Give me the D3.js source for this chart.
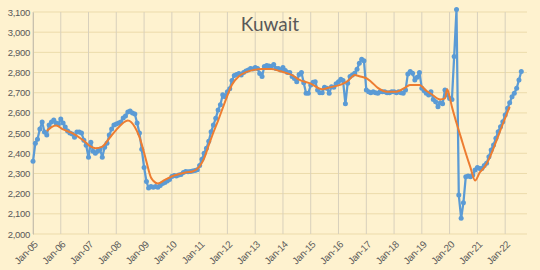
<!DOCTYPE html>
<html>
<head>
<meta charset="utf-8">
<script src="https://cdn.jsdelivr.net/npm/d3@7"></script>
<style>
  body { margin: 0; background: #fef2cf; }
  svg { display: block; font-family: Lato, "Open Sans", sans-serif; }
</style>
</head>
<body>
<div id="chart"></div>
<script>
// monthly crude output, kb/d, from Jan-05
var firstMonth = "2005-01";
var kuwaitCrude = [
  2360, 2450, 2470, 2520, 2555, 2505, 2490, 2540, 2555, 2565, 2550, 2545,
  2570, 2550, 2530, 2510, 2500, 2495, 2480, 2505, 2505, 2500, 2465, 2440,
  2380, 2455, 2410, 2400, 2410, 2420, 2380, 2430, 2450, 2490, 2520, 2540,
  2545, 2550, 2555, 2575, 2585, 2605, 2610, 2600, 2595, 2550, 2500, 2420,
  2330, 2260, 2228, 2235, 2232, 2235, 2232, 2240, 2250, 2255, 2262, 2270,
  2285, 2290, 2288, 2292, 2295, 2305, 2310, 2308, 2310, 2312, 2315, 2318,
  2340, 2370, 2400, 2425, 2460, 2507, 2540, 2573, 2614, 2640, 2690, 2680,
  2705, 2720, 2760, 2785, 2790, 2795, 2788, 2800, 2808, 2812, 2820, 2817,
  2825, 2820, 2795, 2780, 2830, 2835, 2832, 2830, 2840, 2820, 2820, 2812,
  2825, 2810, 2800, 2800, 2780, 2770, 2755, 2790, 2800, 2750, 2697, 2697,
  2738, 2752, 2755, 2713, 2700, 2700, 2727, 2722, 2697, 2730, 2727, 2745,
  2755, 2767, 2760, 2645, 2747, 2780, 2788, 2797, 2816, 2846, 2866, 2859,
  2713, 2705, 2700, 2705, 2700, 2697, 2705, 2705, 2705, 2700, 2700, 2705,
  2705, 2700, 2705, 2700, 2698, 2713, 2793, 2805, 2797, 2763, 2777, 2800,
  2722, 2710, 2697, 2689, 2705, 2667, 2655, 2631, 2650, 2645, 2713, 2689,
  2672, 2667, 2879, 3113, 2193, 2078, 2155, 2284, 2287, 2284, 2292, 2317,
  2330, 2325, 2325, 2340, 2350, 2383, 2416, 2441, 2474, 2507, 2532, 2556,
  2590, 2623, 2650, 2680, 2697, 2722, 2763, 2805
];

// smoothed trend (orange)
var smoothDates = [
  "2005-07", "2005-09", "2005-11", "2006-02", "2006-06", "2006-11", "2007-02", "2007-04",
  "2007-07", "2007-10", "2008-01", "2008-05", "2008-06", "2008-09", "2008-11", "2009-01",
  "2009-02", "2009-04", "2009-05", "2009-07", "2009-10", "2010-02", "2010-07", "2010-10",
  "2011-01", "2011-03", "2011-05", "2011-07", "2011-09", "2011-12", "2012-03", "2012-06",
  "2012-09", "2012-12", "2013-04", "2013-08", "2013-12", "2014-05", "2014-08", "2015-01",
  "2015-06", "2015-09", "2016-02", "2016-05", "2016-07", "2016-08", "2016-10", "2017-01",
  "2017-03", "2017-06", "2017-10", "2018-02", "2018-06", "2018-08", "2018-12", "2019-03",
  "2019-05", "2019-09", "2019-11", "2019-12", "2020-01", "2020-02", "2020-04", "2020-06",
  "2020-08", "2020-10", "2020-12", "2021-02", "2021-04", "2021-06", "2021-09", "2021-12",
  "2022-03"
];
var smoothValues = [
  2510, 2530, 2538, 2518, 2500, 2462, 2433, 2425,
  2433, 2474, 2516, 2558, 2562, 2530, 2480, 2402,
  2358, 2280, 2264, 2250, 2268, 2290, 2305, 2310,
  2335, 2375, 2440, 2503, 2562, 2655, 2740, 2782,
  2802, 2812, 2817, 2817, 2806, 2787, 2765, 2745,
  2717, 2726, 2740, 2758, 2780, 2788, 2782, 2772,
  2756, 2724, 2705, 2705, 2727, 2738, 2738, 2710,
  2695, 2667, 2672, 2717, 2680, 2630, 2550, 2475,
  2400, 2330, 2265, 2305, 2330, 2370, 2455, 2545,
  2631
];

var yTicks = [2000, 2100, 2200, 2300, 2400, 2500, 2600, 2700, 2800, 2900, 3000, 3100];
var xTickMonths = [
  "2005-01", "2006-01", "2007-01", "2008-01", "2009-01", "2010-01", "2011-01", "2012-01", "2013-01",
  "2014-01", "2015-01", "2016-01", "2017-01", "2018-01", "2019-01", "2020-01", "2021-01", "2022-01"
];

var width = 540, height = 270,
    plotLeft = 33, plotRight = 527, plotTop = 12, plotBottom = 234;

var parseMonth = d3.timeParse("%Y-%m");
var start = parseMonth(firstMonth);

var crude = kuwaitCrude.map(function(v, i) {
  return { date: d3.timeMonth.offset(start, i), v: v };
});
var trend = smoothDates.map(function(d, i) {
  return { date: parseMonth(d), v: smoothValues[i] };
});
var xTicks = xTickMonths.map(parseMonth);

var x = d3.scaleTime()
  .domain([start, new Date(2022, 9, 15)])
  .range([plotLeft, plotRight]);
var y = d3.scaleLinear()
  .domain([2000, 3100])
  .range([plotBottom, plotTop]);

var svg = d3.select("#chart")
  .append("svg")
  .attr("width", width)
  .attr("height", height);

svg.append("rect")
  .attr("width", width)
  .attr("height", height)
  .attr("fill", "#fef2cf");

// gridlines
svg.append("g")
  .selectAll("line")
  .data(yTicks)
  .enter()
  .append("line")
  .attr("x1", plotLeft).attr("x2", plotRight)
  .attr("y1", function(d) { return y(d); })
  .attr("y2", function(d) { return y(d); })
  .style("stroke", "#ecdbab")
  .style("stroke-width", 1);

svg.append("g")
  .selectAll("line")
  .data(xTicks)
  .enter()
  .append("line")
  .attr("y1", plotTop).attr("y2", plotBottom)
  .attr("x1", function(d) { return x(d); })
  .attr("x2", function(d) { return x(d); })
  .style("stroke", "#d8d0bc")
  .style("stroke-width", 1);

// axes
var yAxis = svg.append("g")
  .attr("transform", "translate(" + plotLeft + ",0)")
  .call(d3.axisLeft(y).tickValues(yTicks).tickFormat(d3.format(",")).tickSize(0).tickPadding(3));
yAxis.select(".domain").attr("stroke", "#c9c1ad");
yAxis.selectAll("text").attr("fill", "#595959").style("font-size", "9.5px").attr("letter-spacing", "-0.3");

var xAxis = svg.append("g")
  .attr("transform", "translate(0," + plotBottom + ")")
  .call(d3.axisBottom(x).tickValues(xTicks).tickFormat(d3.timeFormat("%b-%y")).tickSize(0));
xAxis.select(".domain").remove();
xAxis.selectAll("text")
  .attr("fill", "#595959")
  .style("font-size", "9.8px")
  .attr("letter-spacing", "-0.3")
  .attr("text-anchor", "end")
  .attr("dy", null)
  .attr("y", 0)
  .attr("transform", "translate(5,11) rotate(-45)");

// series
var line = d3.line()
  .x(function(d) { return x(d.date); })
  .y(function(d) { return y(d.v); });

svg.append("path")
  .datum(crude)
  .attr("d", line)
  .style("fill", "none")
  .style("stroke", "#5b9bd5")
  .style("stroke-width", 2.25)
  .style("stroke-linejoin", "round");

svg.append("g")
  .selectAll("circle")
  .data(crude)
  .enter()
  .append("circle")
  .attr("cx", function(d) { return x(d.date); })
  .attr("cy", function(d) { return y(d.v); })
  .attr("r", 2.5)
  .style("fill", "#5b9bd5");

svg.append("path")
  .datum(trend)
  .attr("d", line.curve(d3.curveMonotoneX))
  .style("fill", "none")
  .style("stroke", "#ed7d31")
  .style("stroke-width", 2);

// title
svg.append("text")
  .attr("x", 270)
  .attr("y", 31)
  .attr("text-anchor", "middle")
  .style("font-size", "19px")
  .style("fill", "#595959")
  .text("Kuwait");
</script>
</body>
</html>
